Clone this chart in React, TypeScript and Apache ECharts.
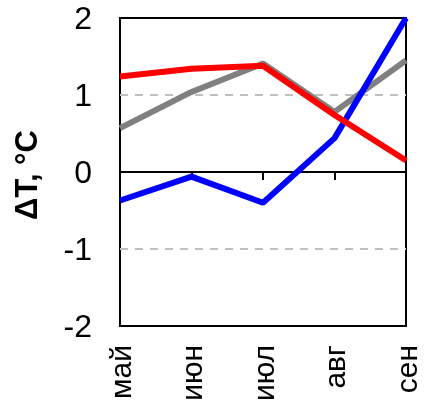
import React, { useEffect, useRef } from "react";
import * as echarts from "echarts";

const months = ["май", "июн", "июл", "авг", "сен"];
const gray = [0.57, 1.04, 1.41, 0.78, 1.45];
const blue = [-0.37, -0.06, -0.4, 0.44, 2.0];
const red = [1.24, 1.34, 1.38, 0.74, 0.15];
const yTicks = { min: -2, max: 2, step: 1 };
const yTitle = "ΔT, °C";

const FONT = "Arial, 'Liberation Sans', sans-serif";

export default function App() {
  const ref = useRef<HTMLDivElement>(null);

  useEffect(() => {
    if (!ref.current) return;
    const chart = echarts.init(ref.current, null, { renderer: "svg" });
    const lineSeries = (name: string, data: number[], color: string) => ({
      name,
      type: "line",
      data,
      xAxisIndex: 0,
      showSymbol: false,
      symbol: "none",
      lineStyle: { color, width: 6 },
      itemStyle: { color },
    });
    chart.setOption({
      animation: false,
      textStyle: { fontFamily: FONT },
      grid: {
        left: 120,
        top: 18,
        right: 18,
        bottom: 82,
        show: true,
        borderColor: "#000",
        borderWidth: 2,
        backgroundColor: "transparent",
      },
      xAxis: [
        {
          type: "category",
          data: months,
          boundaryGap: false,
          axisLine: { onZero: true, lineStyle: { color: "#000", width: 2 } },
          axisTick: { show: true, length: 8, lineStyle: { color: "#000", width: 2 } },
          axisLabel: { show: false },
          splitLine: { show: false },
        },
        {
          type: "category",
          data: months,
          boundaryGap: false,
          position: "bottom",
          axisLine: { show: false, onZero: false },
          axisTick: { show: false },
          axisLabel: {
            rotate: 90,
            fontSize: 30,
            color: "#000",
            margin: 19,
            fontFamily: FONT,
          },
          splitLine: { show: false },
        },
      ],
      yAxis: {
        type: "value",
        min: yTicks.min,
        max: yTicks.max,
        interval: yTicks.step,
        axisLine: { show: false },
        axisTick: { show: false },
        axisLabel: { fontSize: 32, color: "#000", margin: 28, fontFamily: FONT },
        splitLine: {
          show: true,
          showMinLine: false,
          showMaxLine: false,
          lineStyle: { color: "#c0c0c0", width: 2, type: [8, 7] },
        },
      },
      graphic: [
        {
          type: "text",
          x: 26,
          y: 175,
          rotation: Math.PI / 2,
          style: {
            text: yTitle,
            fontSize: 31,
            fontWeight: "bold",
            fontFamily: FONT,
            fill: "#000",
            align: "center",
            verticalAlign: "middle",
          },
        },
      ],
      series: [
        lineSeries("gray", gray, "#808080"),
        lineSeries("blue", blue, "#0000ff"),
        lineSeries("red", red, "#ff0000"),
      ],
    });
    return () => chart.dispose();
  }, []);

  return (
    <div
      ref={ref}
      style={{ position: "fixed", left: 0, top: 0, width: 424, height: 408 }}
    />
  );
}
